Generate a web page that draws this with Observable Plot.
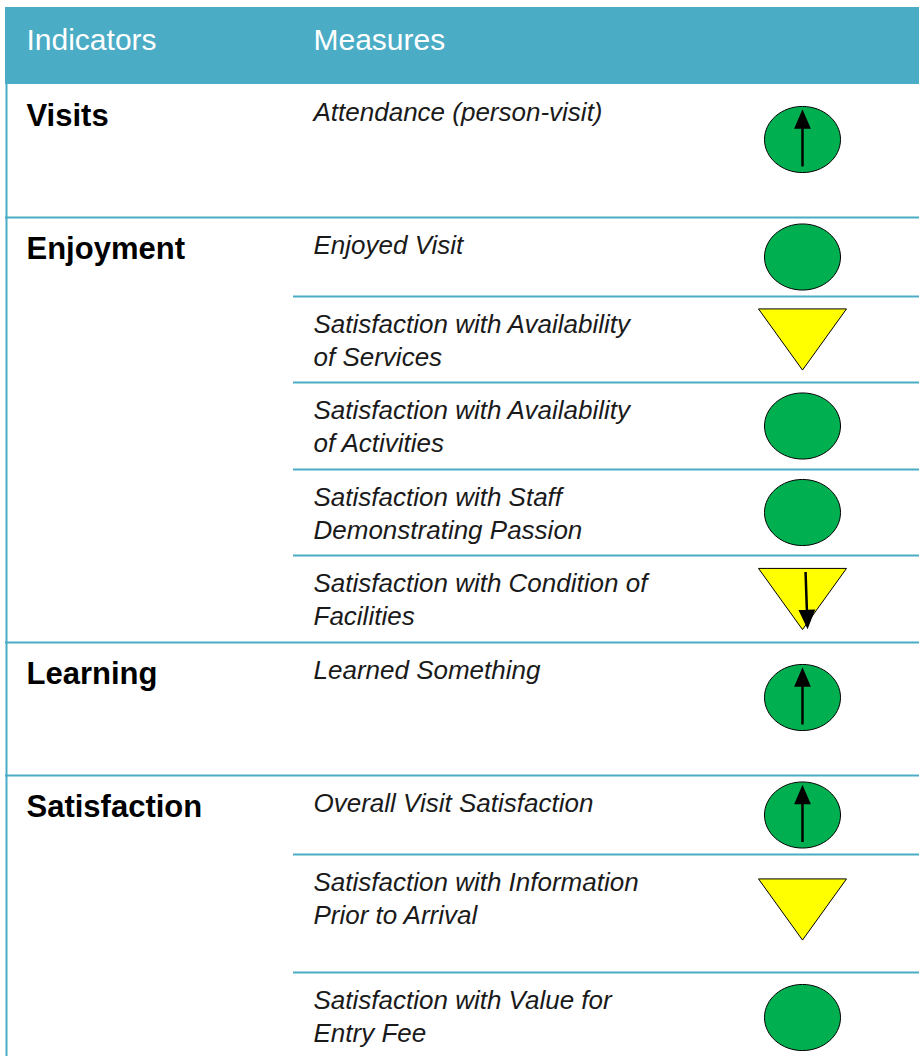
<!DOCTYPE html>
<html><head><meta charset="utf-8">
<script src="https://cdn.jsdelivr.net/npm/d3@7"></script>
<script src="https://cdn.jsdelivr.net/npm/@observablehq/plot@0.6"></script>
<style>html,body{margin:0;padding:0;background:#fff;} svg{display:block}</style>
</head><body><div id="chart"></div>
<script>
// ---- data ----
const headers = ["Indicators", "Measures"];
const indicators = ["Visits", "Enjoyment", "Learning", "Satisfaction"];
const measures = [
  "Attendance (person-visit)",
  "Enjoyed Visit",
  "Satisfaction with Availability\nof Services",
  "Satisfaction with Availability\nof Activities",
  "Satisfaction with Staff\nDemonstrating Passion",
  "Satisfaction with Condition of\nFacilities",
  "Learned Something",
  "Overall Visit Satisfaction",
  "Satisfaction with Information\nPrior to Arrival",
  "Satisfaction with Value for\nEntry Fee"
];
const measureIndicator = [0, 1, 1, 1, 1, 1, 2, 3, 3, 3];
const status = ["green", "green", "yellow", "green", "green", "yellow", "green", "green", "yellow", "green"];
const trend = ["up", "none", "none", "none", "none", "down", "up", "up", "none", "none"];

// ---- layout ----
const W = 919, H = 1056;
const headerTop = 7, headerBottom = 84, tableLeft = 5, subLineX = 293;
const rowHeights = [133, 79, 86, 87, 86, 87, 133, 79, 118, 90];
const colX = [26, 313];
const symX = 802;
const teal = "#4BACC6";
const fills = {green: "#00B050", yellow: "#FFFF00"};

let acc = headerBottom;
const rows = measures.map((m, i) => {
  const top = acc, h = rowHeights[i];
  acc += h;
  return {
    i, measure: m, ind: measureIndicator[i],
    first: i === 0 || measureIndicator[i] !== measureIndicator[i - 1],
    top, h, cy: top + Math.min(h / 2, 55),
    status: status[i], trend: trend[i]
  };
});

// custom symbols
const ellipse = {draw(ctx, size) {
  const rx = Math.sqrt(size / Math.PI), ry = rx * 0.87, k = 0.5523;
  ctx.moveTo(rx, 0);
  ctx.bezierCurveTo(rx, ry * k, rx * k, ry, 0, ry);
  ctx.bezierCurveTo(-rx * k, ry, -rx, ry * k, -rx, 0);
  ctx.bezierCurveTo(-rx, -ry * k, -rx * k, -ry, 0, -ry);
  ctx.bezierCurveTo(rx * k, -ry, rx, -ry * k, rx, 0);
  ctx.closePath();
}};
const triDown = {draw(ctx, size) {
  const a = Math.sqrt(size / Math.PI), h = a * 1.39;
  ctx.moveTo(-a, -h / 2); ctx.lineTo(a, -h / 2); ctx.lineTo(0, h / 2); ctx.closePath();
}};
const arrowSym = {draw(ctx, size) {
  const L = Math.sqrt(size / Math.PI), hw = 6.5, hh = 15;
  ctx.moveTo(0, L); ctx.lineTo(0, -L + hh - 2);
  ctx.moveTo(0, -L); ctx.lineTo(hw, -L + hh); ctx.lineTo(-hw, -L + hh); ctx.closePath();
}};

const headerData = headers.map((t, j) => ({t, x: colX[j], y: 49}));
const indData = rows.filter(r => r.first).map(r => ({t: indicators[r.ind], x: colX[0], y: r.top + 41}));
const measureLines = rows.flatMap(r => r.measure.split("\n").map((t, j) => ({t, x: colX[1], y: r.top + 36 + j * 33})));
const ruleData = rows.filter(r => r.i > 0).map(r => ({y: r.top, x1: r.first ? tableLeft : subLineX, x2: W}));
const circles = rows.filter(r => r.status === "green");
const triangles = rows.filter(r => r.status === "yellow");
const ups = rows.filter(r => r.trend === "up");
const downs = rows.filter(r => r.trend === "down");

const chart = Plot.plot({
  width: W, height: H, margin: 0,
  x: {domain: [0, W], range: [0, W], axis: null},
  y: {domain: [0, H], range: [0, H], axis: null},
  style: {background: "#fff"},
  marks: [
    Plot.rect([{x1: tableLeft, x2: W, y1: headerTop, y2: headerBottom}], {x1: "x1", x2: "x2", y1: "y1", y2: "y2", fill: teal}),
    Plot.ruleX([{x: tableLeft + 1, y1: headerBottom, y2: H}], {x: "x", y1: "y1", y2: "y2", stroke: teal, strokeWidth: 2}),
    Plot.ruleY(ruleData, {y: "y", x1: "x1", x2: "x2", stroke: teal, strokeWidth: 2}),
    Plot.text(headerData, {x: "x", y: "y", text: "t", textAnchor: "start", lineAnchor: "bottom", fill: "white", fontSize: 30, fontFamily: "Liberation Sans, Arial, sans-serif", fontWeight: 300}),
    Plot.text(indData, {x: "x", y: "y", text: "t", textAnchor: "start", lineAnchor: "bottom", fill: "#000", fontSize: 31, fontWeight: "bold", fontFamily: "Liberation Sans, Arial, sans-serif"}),
    Plot.text(measureLines, {x: "x", y: "y", text: "t", textAnchor: "start", lineAnchor: "bottom", fill: "#1a1a1a", fontSize: 26, fontStyle: "italic", fontFamily: "Liberation Sans, Arial, sans-serif"}),
    Plot.dot(circles, {x: () => symX, y: "cy", r: 38, symbol: ellipse, fill: fills.green, stroke: "#000", strokeWidth: 1}),
    Plot.dot(triangles, {x: () => symX, y: "cy", r: 44, symbol: triDown, fill: fills.yellow, stroke: "#000", strokeWidth: 1}),
    Plot.dot(ups, {x: () => symX, y: "cy", r: 27, symbol: arrowSym, fill: "#000", stroke: "#000", strokeWidth: 2.5}),
    Plot.dot(downs, {x: () => symX + 4, y: "cy", r: 27, symbol: arrowSym, rotate: 178, fill: "#000", stroke: "#000", strokeWidth: 2.5})
  ]
});
document.getElementById("chart").appendChild(chart);
</script>
</body></html>
